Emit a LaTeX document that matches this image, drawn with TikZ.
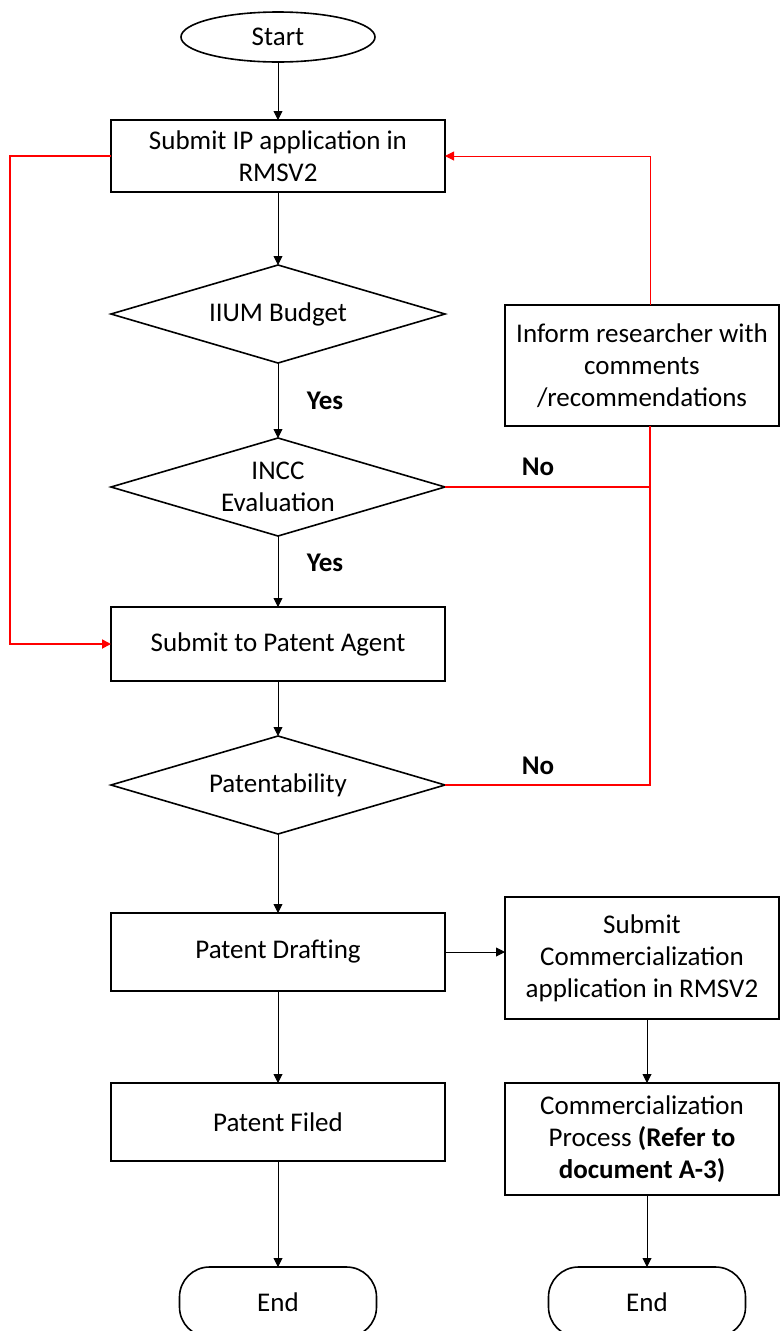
\documentclass[tikz,border=0pt]{standalone}
\usepackage{fontspec}
\setmainfont{Carlito}
\usetikzlibrary{arrows.meta,positioning,calc,shapes.geometric}

\begin{document}
\begin{tikzpicture}[x=1pt,y=1pt,
  font=\fontsize{27}{32}\selectfont,
  proc/.style={draw,line width=1.6pt,minimum width=334pt,outer sep=0pt,
               minimum height=74pt,align=center,inner sep=2pt},
  side/.style={proc,minimum width=274pt},
  decide/.style={draw,diamond,line width=1.6pt,minimum width=334pt,
                 minimum height=98pt,inner sep=0pt,outer sep=0pt,
                 label={[align=center]center:#1}},
  term/.style={draw,line width=1.6pt,rounded corners=30pt,outer sep=0pt,
               minimum width=197pt,minimum height=70pt},
  flow/.style={-{Triangle[length=9pt,width=9pt]},line width=0.9pt},
  back/.style={red,line width=1.8pt},
  lbl/.style={font=\fontsize{27}{32}\selectfont\bfseries}]
  \useasboundingbox (0,0) rectangle (780,-1331);
  \node[draw,ellipse,line width=1.6pt,minimum width=194pt,outer sep=0pt,
        minimum height=50pt,inner sep=0pt] (start) at (278,-37) {Start};
  \node[proc,below=58pt of start,minimum height=72pt]
       (subip) {Submit IP application in\\RMSV2};
  \node[decide={IIUM Budget},below=73pt of subip] (iium) {};
  \node[decide={INCC\\Evaluation},below=75pt of iium] (incc) {};
  \node[proc,below=71pt of incc] (agent) {Submit to Patent Agent};
  \node[decide={Patentability},below=55pt of agent] (patab) {};
  \node[proc,below=79pt of patab,minimum height=78pt]
       (draft) {Patent Drafting};
  \node[proc,below=92pt of draft,minimum height=78pt]
       (filed) {Patent Filed};
  \node[term,below=106pt of filed] (end1) {End};
  \node[side,minimum height=121pt] (inform) at (642,-365.5)
       {Inform researcher with\\comments\\/recommendations};
  \node[side,minimum height=122pt,right=60pt of draft,yshift=-6pt]
       (csub) {Submit\\Commercialization\\application in RMSV2};
  \node[side,minimum height=112pt,below=64pt of csub]
       (cproc) {Commercialization\\Process \textbf{(Refer to}\\
                \textbf{document A-3)}};
  \node[term,below=72pt of cproc,xshift=5pt] (end2) {End};
  \node[lbl] (yes1) at (325,-401) {Yes};
  \node[lbl] (yes2) at (325,-563) {Yes};
  \node[lbl] (no1) at (538,-467) {No};
  \node[lbl] (no2) at (538,-766) {No};
  \draw[flow](start)--(subip);
  \draw[flow](subip)--(iium);
  \draw[flow](iium)--(incc);
  \draw[flow](incc)--(agent);
  \draw[flow](agent)--(patab);
  \draw[flow](patab)--(draft);
  \draw[flow](draft)--(filed);
  \draw[flow](filed)--(end1);
  \draw[flow](draft.east)--(draft.east -| csub.west);
  \draw[flow](csub.south -| end2)--(end2 |- cproc.north);
  \draw[flow](cproc.south -| end2)--(end2);
  \coordinate (rx) at ($(inform.north)+(8,0)$);
  \draw[back,line width=1pt,-{Triangle[length=9pt,width=9pt]}]
       (rx) |- (subip.east);
  \draw[back](inform.south -| rx) |- (patab.east);
  \draw[back](incc.east) -- (incc.east -| rx);
  \draw[back,-{Triangle[length=9pt,width=9pt]}]
       (subip.west) -- ++(-101,0) |- (agent.west);
\end{tikzpicture}
\end{document}
